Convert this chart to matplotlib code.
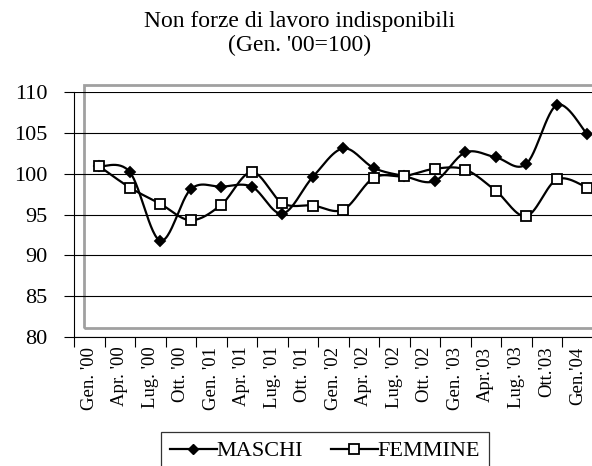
import numpy as np
import matplotlib
matplotlib.use("Agg")
import matplotlib.pyplot as plt
from matplotlib.patches import Rectangle
from matplotlib.lines import Line2D

plt.rcParams['font.family'] = ['Liberation Serif', 'DejaVu Serif']

categories = ["Gen. '00", "Apr. '00", "Lug. '00", "Ott. '00", "Gen. '01", "Apr. '01",
              "Lug. '01", "Ott. '01", "Gen. '02", "Apr. '02", "Lug. '02", "Ott. '02",
              "Gen. '03", "Apr.'03", "Lug. '03", "Ott.'03", "Gen.'04"]
maschi = [100.9, 100.2, 91.8, 98.1, 98.4, 98.4, 95.1, 99.6, 103.1, 100.7, 99.7, 99.1,
          102.6, 102.0, 101.2, 108.4, 104.8]
femmine = [100.9, 98.3, 96.3, 94.3, 96.2, 100.2, 96.4, 96.1, 95.6, 99.5, 99.7, 100.6,
           100.5, 97.9, 94.8, 99.3, 98.3]
yticks = [80, 85, 90, 95, 100, 105, 110]
title = "Non forze di lavoro indisponibili\n(Gen. '00=100)"


def smooth(x, y, n=30):
    """Excel-like smoothed line (Catmull-Rom Bezier)."""
    P = np.column_stack([x, y]).astype(float)
    Pe = np.vstack([P[0], P, P[-1]])
    out = []
    t = np.linspace(0, 1, n)[:, None]
    for i in range(len(P) - 1):
        p0, p1, p2, p3 = Pe[i], Pe[i + 1], Pe[i + 2], Pe[i + 3]
        b1 = p1 + (p2 - p0) / 6.0
        b2 = p2 - (p3 - p1) / 6.0
        seg = ((1 - t) ** 3) * p1 + 3 * ((1 - t) ** 2) * t * b1 + 3 * (1 - t) * t ** 2 * b2 + t ** 3 * p2
        out.append(seg if i == 0 else seg[1:])
    out = np.vstack(out)
    return out[:, 0], out[:, 1]


W, H = 592, 466
fig = plt.figure(figsize=(W / 100, H / 100), dpi=100)
ax = fig.add_axes([74 / W, 1 - 337 / H, 518.5 / W, 245 / H])
ax.set_facecolor('none')

# grey plot-area frame
fig.patches.append(Rectangle((84 / W, 1 - 328 / H), 530 / W, 243 / H,
                             transform=fig.transFigure, fill=False,
                             edgecolor='#a0a0a0', linewidth=2.0, zorder=-1))

n = len(categories)
offset = 0.33
xs = np.arange(n) + offset

for vals, mk, fc, ms in [(maschi, 'D', 'black', 5), (femmine, 's', 'white', 7)]:
    sx, sy = smooth(xs, vals)
    ax.plot(sx, sy, color='black', linewidth=1.6, zorder=3, clip_on=False)
    ax.plot(xs, vals, linestyle='none', marker=mk, markersize=ms,
            markerfacecolor=fc, markeredgecolor='black', markeredgewidth=1.3,
            zorder=4, clip_on=False)

ax.set_xlim(-0.5, n - 0.5)
ax.set_ylim(80, 110)
ax.set_yticks(yticks)
ax.set_yticklabels([str(v) for v in yticks], fontsize=16)
ax.yaxis.grid(True, color='black', linewidth=0.8)
ax.set_axisbelow(False)

ax.set_xticks(np.arange(n + 1) - 0.5)
ax.set_xticklabels([])
ax.set_xticks(np.arange(n), minor=True)
ax.set_xticklabels(categories, minor=True, rotation=90, fontsize=13.5, va='top')
ax.tick_params(axis='x', which='minor', length=0, pad=7)
ax.tick_params(axis='x', which='major', direction='out', length=7, width=0.8)
ax.tick_params(axis='y', direction='out', length=7, width=0.8, pad=12)

for s in ['top', 'right']:
    ax.spines[s].set_visible(False)
for s in ['left', 'bottom']:
    ax.spines[s].set_linewidth(0.8)

fig.text(300 / W, 1 - 11 / H, title, ha='center', va='top', fontsize=17, linespacing=1.2)

handles = [Line2D([], [], color='black', linewidth=1.6, marker='D', markersize=5,
                  markerfacecolor='black', markeredgecolor='black'),
           Line2D([], [], color='black', linewidth=1.6, marker='s', markersize=7,
                  markerfacecolor='white', markeredgecolor='black', markeredgewidth=1.3)]
leg = fig.legend(handles, ['MASCHI', 'FEMMINE'], loc='upper center',
                 bbox_to_anchor=(325 / W, 1 - 432 / H), ncol=2, fontsize=16,
                 frameon=True, fancybox=False, edgecolor='black', handlelength=2.1,
                 handletextpad=0.0, columnspacing=1.25, borderpad=0.4,
                 borderaxespad=0.0)
leg.get_frame().set_linewidth(0.9)

fig.savefig('out.png', dpi=100)
